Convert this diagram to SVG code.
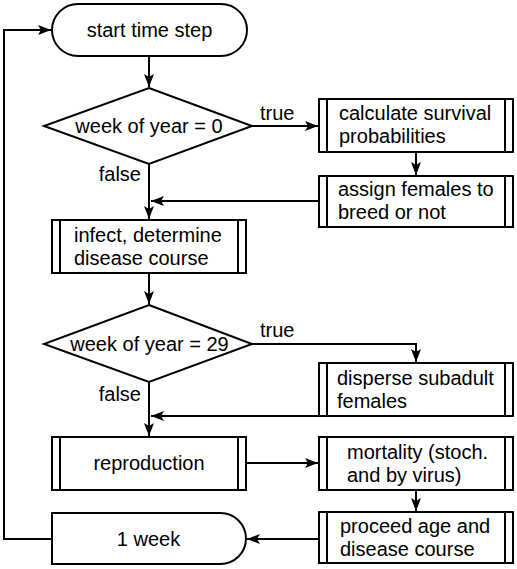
<svg xmlns="http://www.w3.org/2000/svg" width="517" height="569" viewBox="0 0 517 569">
<style>
.s{fill:#fff;stroke:#000;stroke-width:2}
.l{fill:none;stroke:#000;stroke-width:2}
text{font-family:"Liberation Sans",Arial,sans-serif;font-size:20px;fill:#000}
.c{text-anchor:middle}
.e{text-anchor:end}
</style>
<defs>
<marker id="a" markerUnits="userSpaceOnUse" markerWidth="14" markerHeight="12" viewBox="0 0 14 12" refX="13" refY="6" orient="auto">
<path d="M0,1 L13,6 L0,11 L3,6 Z" fill="#000"/>
</marker>
</defs>
<g id="connectors">
<path class="l" d="M149,56 V87" marker-end="url(#a)"/>
<path class="l" d="M252,126 H318" marker-end="url(#a)"/>
<path class="l" d="M416,152 V175" marker-end="url(#a)"/>
<path class="l" d="M319,201 H151" marker-end="url(#a)"/>
<path class="l" d="M149,164 V219" marker-end="url(#a)"/>
<path class="l" d="M149,273 V304" marker-end="url(#a)"/>
<path class="l" d="M252,344 H416 V362" marker-end="url(#a)"/>
<path class="l" d="M319,416 H151" marker-end="url(#a)"/>
<path class="l" d="M149,382 V436" marker-end="url(#a)"/>
<path class="l" d="M246,463 H318" marker-end="url(#a)"/>
<path class="l" d="M416,490 V511" marker-end="url(#a)"/>
<path class="l" d="M319,539 H247" marker-end="url(#a)"/>
<path class="l" d="M52,539 H4 V30 H51" marker-end="url(#a)"/>
<text x="260" y="120">true</text>
<text x="260" y="337">true</text>
<text class="e" x="141" y="181">false</text>
<text class="e" x="141" y="401">false</text>
</g>
<g id="start">
<rect class="s" x="52" y="4" width="195" height="52" rx="26"/>
<text class="c" x="149.5" y="37">start time step</text>
</g>
<g id="dec1">
<path class="s" d="M149,88 L252,126 L149,164 L44,126 Z"/>
<text class="c" x="149" y="133">week of year = 0</text>
</g>
<g id="surv">
<rect class="s" x="319" y="99" width="194" height="53"/>
<path class="l" d="M327,99 V152 M505,99 V152"/>
<text x="339" y="120">calculate survival</text>
<text x="339" y="143">probabilities</text>
</g>
<g id="assign">
<rect class="s" x="319" y="176" width="194" height="51"/>
<path class="l" d="M327,176 V227 M505,176 V227"/>
<text x="338" y="196">assign females to</text>
<text x="338" y="219">breed or not</text>
</g>
<g id="infect">
<rect class="s" x="52" y="220" width="194" height="53"/>
<path class="l" d="M60,220 V273 M238,220 V273"/>
<text x="74" y="241.5">infect, determine</text>
<text x="74" y="264.5">disease course</text>
</g>
<g id="dec2">
<path class="s" d="M149,305 L252,344 L149,382 L44,344 Z"/>
<text class="c" x="149.5" y="351">week of year = 29</text>
</g>
<g id="disperse">
<rect class="s" x="319" y="363" width="194" height="53"/>
<path class="l" d="M327,363 V416 M505,363 V416"/>
<text x="337" y="385">disperse subadult</text>
<text x="337" y="408">females</text>
</g>
<g id="repro">
<rect class="s" x="52" y="437" width="194" height="53"/>
<path class="l" d="M60,437 V490 M238,437 V490"/>
<text class="c" x="149" y="470">reproduction</text>
</g>
<g id="mort">
<rect class="s" x="319" y="437" width="194" height="53"/>
<path class="l" d="M327,437 V490 M505,437 V490"/>
<text x="347" y="458.5">mortality (stoch.</text>
<text x="347" y="481.5">and by virus)</text>
</g>
<g id="proceed">
<rect class="s" x="319" y="512" width="194" height="51"/>
<path class="l" d="M327,512 V563 M505,512 V563"/>
<text x="340" y="532.5">proceed age and</text>
<text x="340" y="555.5">disease course</text>
</g>
<g id="week">
<path class="s" d="M52,513 H220.5 A25.5,25.5 0 0 1 220.5,564 H52 Z"/>
<text class="c" x="148.5" y="546">1 week</text>
</g>
</svg>
